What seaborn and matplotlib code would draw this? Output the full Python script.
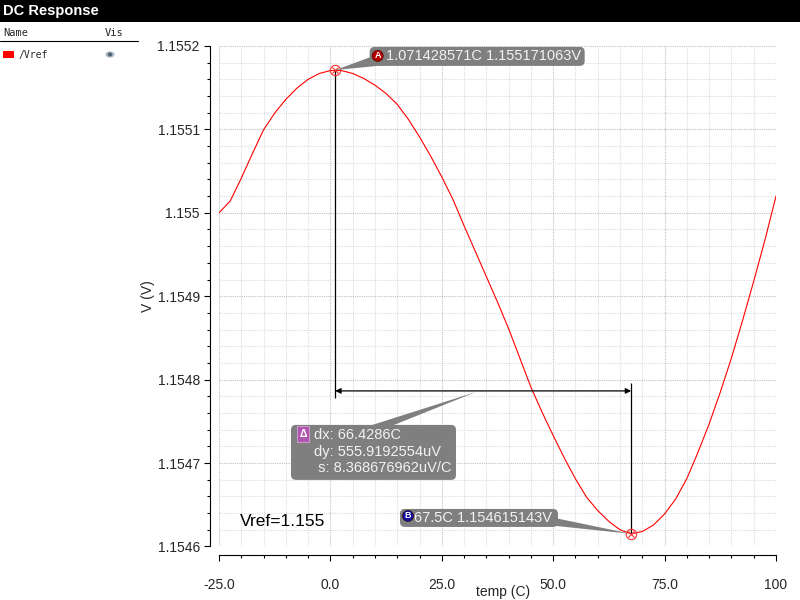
import pandas as pd
import matplotlib
matplotlib.use('Agg')
import matplotlib.pyplot as plt
from matplotlib.patches import Rectangle, Ellipse, FancyBboxPatch, Polygon
from matplotlib.lines import Line2D
from matplotlib.transforms import Affine2D
from matplotlib.ticker import MultipleLocator, FixedLocator
import seaborn as sns

# DC sweep of Vref over temperature
temps = [-25, -22.5, -20, -17.5, -15, -12.5, -10, -7.5, -5, -2.5,
         0, 2.5, 5, 7.5, 10, 12.5, 15, 17.5, 20, 22.5,
         25, 27.5, 30, 32.5, 35, 37.5, 40, 42.5, 45, 47.5,
         50, 52.5, 55, 57.5, 60, 62.5, 65, 67.5, 70, 72.5,
         75, 77.5, 80, 82.5, 85, 87.5, 90, 92.5, 95, 97.5, 100]
vref = [1.1550000, 1.1550140, 1.1550415, 1.1550710, 1.1550995, 1.1551195, 1.1551360, 1.1551495, 1.1551600, 1.1551670,
        1.1551705, 1.1551705, 1.1551670, 1.1551610, 1.1551530, 1.1551430, 1.1551300, 1.1551120, 1.1550910, 1.1550680,
        1.1550430, 1.1550160, 1.1549845, 1.1549540, 1.1549235, 1.1548930, 1.1548610, 1.1548260, 1.1547910, 1.1547610,
        1.1547330, 1.1547060, 1.1546810, 1.1546590, 1.1546430, 1.1546300, 1.1546200, 1.1546151, 1.1546180, 1.1546257,
        1.1546390, 1.1546570, 1.1546815, 1.1547130, 1.1547470, 1.1547850, 1.1548260, 1.1548710, 1.1549180, 1.1549670,
        1.1550200]

# cursor markers
marker_names = ['A', 'B']
marker_temps = [1.071428571, 67.5]
marker_volts = [1.155171063, 1.154615143]
marker_labels = ['1.071428571C 1.155171063V', '67.5C 1.154615143V']
marker_badge_colors = ['#b00000', '#10109a']

delta_lines = ['dx: 66.4286C', 'dy: 555.9192554uV', ' s: 8.368676962uV/C']

x_ticks = [-25, 0, 25, 50, 75, 100]
x_tick_labels = ['-25.0', '0.0', '25.0', '50.0', '75.0', '100']
y_ticks = [1.1546, 1.1547, 1.1548, 1.1549, 1.1550, 1.1551, 1.1552]
y_tick_labels = ['1.1546', '1.1547', '1.1548', '1.1549', '1.155', '1.1551', '1.1552']

# level of the dx ruler and ends of the cursor stems
delta_level = 1.1547865
a_stem_end = 1.1547780
b_stem_end = 1.1547960

sns.set_style('white')
plt.rcParams['font.family'] = ['Liberation Sans', 'DejaVu Sans']

fig = plt.figure(figsize=(8, 6), dpi=100)
ax = fig.add_axes([0.27375, 0.0892, 0.69625, 0.8342])

df = pd.DataFrame({'temp': temps, 'Vref': vref})
sns.lineplot(data=df, x='temp', y='Vref', color='#ff0000', linewidth=0.8, ax=ax, zorder=3)

ax.set_xlim(-25, 100)
ax.set_ylim(1.1546, 1.1552)
ax.xaxis.set_major_locator(FixedLocator(x_ticks))
ax.set_xticklabels(x_tick_labels)
ax.xaxis.set_minor_locator(MultipleLocator(5))
ax.yaxis.set_major_locator(FixedLocator(y_ticks))
ax.set_yticklabels(y_tick_labels)
ax.yaxis.set_minor_locator(MultipleLocator(0.00002))

ax.set_axisbelow(True)
ax.grid(which='minor', color='#dcdcdc', linestyle=(0, (1, 1)), linewidth=0.8)
ax.grid(which='major', color='#c0c0c0', linestyle=(0, (1, 1)), linewidth=0.8)

sns.despine(ax=ax, offset={'left': 6.5, 'bottom': 6.2})
for side in ['left', 'bottom']:
    ax.spines[side].set_color('black')
    ax.spines[side].set_linewidth(0.8)
ax.tick_params(which='major', direction='out', length=4.3, width=0.8, color='black',
               labelsize=10, left=True, bottom=True)
ax.tick_params(which='minor', direction='out', length=2.2, width=0.8, color='black',
               left=True, bottom=True)
ax.tick_params(axis='x', which='major', pad=12)
ax.tick_params(axis='y', which='major', pad=3)

ax.set_xlabel('temp (C)', fontsize=10)
ax.set_ylabel('V (V)', fontsize=10)
ax.xaxis.set_label_coords(0.51, -0.077)
ax.yaxis.set_label_coords(-0.115, 0.5)

# cursor stems and the dx ruler
ax.vlines(marker_temps[0], a_stem_end, marker_volts[0], color='black', linewidth=0.9, zorder=4)
ax.vlines(marker_temps[1], marker_volts[1], b_stem_end, color='black', linewidth=0.9, zorder=4)
ax.annotate('', xy=(marker_temps[0], delta_level), xytext=(marker_temps[1], delta_level),
            arrowprops=dict(arrowstyle='<|-|>', color='black', lw=0.9, mutation_scale=8,
                            shrinkA=0, shrinkB=0), zorder=4)

# cursor symbols (circle with a cross)
ax.plot(marker_temps, marker_volts, 'o', mfc='none', mec='#ff3030', ms=7.4, mew=0.8, zorder=5)
ax.plot(marker_temps, marker_volts, 'x', color='#ff3030', ms=5, mew=0.8, zorder=5)

box_gray = '#7f7f7f'
text_light = '#f2f2f2'


def callout(anchor, box, wedge, tip=(0, 0), zorder=6):
    # box and pointer in pixel offsets from the anchor point (y up)
    px, py = ax.transData.transform(anchor)
    tr = Affine2D().translate(px, py)
    x0, y0, w, h = box
    ax.add_artist(FancyBboxPatch((x0, y0), w, h, boxstyle='round,pad=0,rounding_size=5',
                                 fc=box_gray, ec='none', transform=tr, zorder=zorder,
                                 clip_on=False))
    ax.add_artist(Polygon([wedge[0], wedge[1], tip], closed=True, fc=box_gray, ec='none',
                          transform=tr, zorder=zorder, clip_on=False))


def px2pt(v):
    return v * 72 / fig.dpi


boxes = [(34.5, 4.2, 215, 19), (-231.2, 6.9, 158, 18)]
wedges = [[(38, 14), (50, 5)], [(-82, 17), (-76, 8)]]
text_offsets = [(50.5, 13.9), (-217.2, 15.9)]
badge_offsets = [(42.5, 14.2), (-223.2, 17.9)]
for i in range(2):
    anchor = (marker_temps[i], marker_volts[i])
    callout(anchor, boxes[i], wedges[i])
    ax.annotate(marker_labels[i], xy=anchor,
                xytext=(px2pt(text_offsets[i][0]), px2pt(text_offsets[i][1])),
                textcoords='offset points', ha='left', va='center', fontsize=10.5,
                color=text_light, zorder=7, annotation_clip=False)
    ax.annotate(marker_names[i], xy=anchor,
                xytext=(px2pt(badge_offsets[i][0]), px2pt(badge_offsets[i][1])),
                textcoords='offset points', ha='center', va='center', fontsize=6.5,
                fontweight='bold', color='white', zorder=8,
                bbox=dict(boxstyle='circle,pad=0.12', fc=marker_badge_colors[i],
                          ec='#400000', lw=0.4))

# delta box
mid_temp = (marker_temps[0] + marker_temps[1]) / 2
delta_anchor = (mid_temp, delta_level)
callout(delta_anchor, (-192.2, -89, 165, 55), [(-117, -36), (-94, -36)], tip=(-7, -1))
ax.annotate('\n'.join(delta_lines), xy=delta_anchor,
            xytext=(px2pt(-169.2), px2pt(-61)), textcoords='offset points',
            ha='left', va='center', fontsize=10.5, color=text_light,
            linespacing=1.22, zorder=7)
ax.annotate('\u0394', xy=delta_anchor, xytext=(px2pt(-180.2), px2pt(-43)),
            textcoords='offset points', ha='center', va='center', fontsize=7.5,
            color='white', fontweight='bold', zorder=8,
            bbox=dict(boxstyle='square,pad=0.25', fc='#b055b0', ec='#e0b0e0', lw=0.5))

ax.text(0.038, 0.05, 'Vref=1.155', transform=ax.transAxes, fontsize=12.5,
        color='black', ha='left', va='center')

# window title bar
fig.add_artist(Rectangle((0, 1 - 22 / 600), 1, 22 / 600, transform=fig.transFigure,
                         fc='black', ec='none'))
fig.text(3 / 800, 1 - 11.5 / 600, 'DC Response', color='white', fontsize=10.5,
         fontweight='bold', ha='left', va='center')

# trace list on the left
fig.text(3 / 800, 1 - 33 / 600, 'Name', family='DejaVu Sans Mono', fontsize=7.5,
         ha='left', va='center')
fig.text(105 / 800, 1 - 33 / 600, 'Vis', family='DejaVu Sans Mono', fontsize=7.5,
         ha='left', va='center')
fig.add_artist(Line2D([0, 138 / 800], [1 - 40.5 / 600] * 2, color='black', linewidth=0.8,
                      transform=fig.transFigure))
fig.add_artist(Rectangle((3 / 800, 1 - 58 / 600), 11 / 800, 7 / 600, transform=fig.transFigure,
                         fc='#ff0000', ec='none'))
fig.text(19 / 800, 1 - 55 / 600, '/' + df.columns[1], family='DejaVu Sans Mono', fontsize=7,
         ha='left', va='center')
fig.add_artist(Ellipse((110 / 800, 1 - 54.5 / 600), 9 / 800, 6 / 600, transform=fig.transFigure,
                       fc='#a8b4c0', ec='none'))
fig.add_artist(Ellipse((110 / 800, 1 - 54.5 / 600), 4 / 800, 4 / 600, transform=fig.transFigure,
                       fc='#506070', ec='none'))

fig.savefig('out.png', dpi=100)
